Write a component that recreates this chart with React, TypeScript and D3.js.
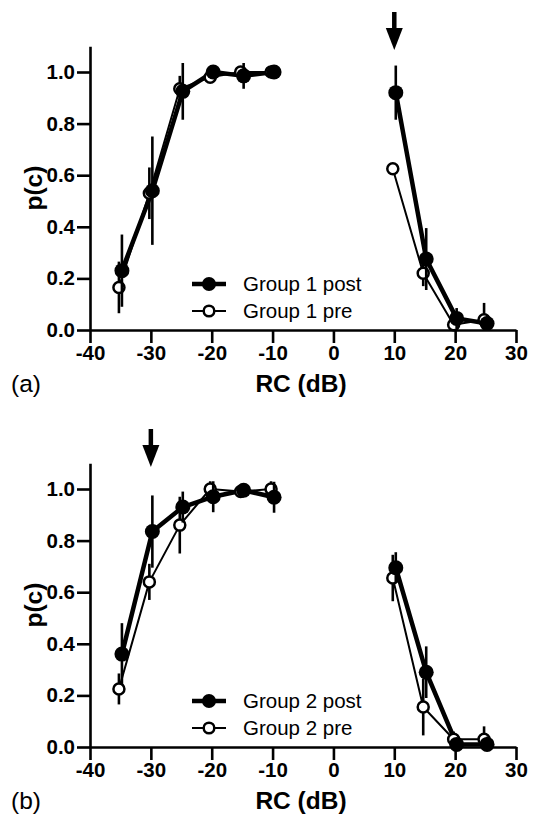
import React, { useRef, useEffect } from 'react';
import * as d3 from 'd3';

const rc = [-35, -30, -25, -20, -15, -10, 10, 15, 20, 25];

const g1Post = [0.23, 0.54, 0.925, 1.0, 0.985, 1.0, 0.92, 0.275, 0.045, 0.025];
const g1PostErr = [0.14, 0.21, 0.11, 0.02, 0.05, 0.01, 0.105, 0.12, 0.04, 0.03];
const g1Pre = [0.165, 0.53, 0.935, 0.98, 1.0, 1.0, 0.625, 0.22, 0.02, 0.04];
const g1PreErr = [0.1, 0.1, 0.05, 0.02, 0.01, 0.01, 0.02, 0.05, 0.02, 0.065];

const g2Post = [0.36, 0.835, 0.93, 0.97, 0.995, 0.968, 0.695, 0.29, 0.01, 0.01];
const g2PostErr = [0.12, 0.14, 0.06, 0.06, 0.02, 0.06, 0.06, 0.1, 0.02, 0.03];
const g2Pre = [0.225, 0.64, 0.86, 1.0, 0.99, 1.0, 0.655, 0.155, 0.03, 0.03];
const g2PreErr = [0.06, 0.07, 0.11, 0.03, 0.02, 0.03, 0.09, 0.11, 0.03, 0.05];

const xTicks = [-40, -30, -20, -10, 0, 10, 20, 30];
const yTicks = [0, 0.2, 0.4, 0.6, 0.8, 1.0];

const panels = [
  { tag: '(a)', post: g1Post, postErr: g1PostErr, pre: g1Pre, preErr: g1PreErr,
    postLabel: 'Group 1 post', preLabel: 'Group 1 pre', arrowAt: 10 },
  { tag: '(b)', post: g2Post, postErr: g2PostErr, pre: g2Pre, preErr: g2PreErr,
    postLabel: 'Group 2 post', preLabel: 'Group 2 pre', arrowAt: -30 },
];

const FONT = '"Liberation Sans", Arial, Helvetica, sans-serif';

const App = () => {
  const svgRef = useRef<SVGSVGElement>(null);

  useEffect(() => {
    const root = d3.select(svgRef.current);
    root.selectAll('*').remove();

    const x = d3.scaleLinear().domain([-40, 30]).range([90, 516]);

    panels.forEach((p, i) => {
      const off = i * 417;
      const g = root.append('g').attr('transform', `translate(0,${off})`);
      const y = d3.scaleLinear().domain([0, 1.1]).range([330, 46.2]);

      // axes
      const xAxis = g.append('g')
        .attr('transform', 'translate(0,330)')
        .call(d3.axisBottom(x).tickValues(xTicks).tickFormat((d) => String(d))
          .tickSize(13).tickSizeOuter(0).tickPadding(2));
      const yAxis = g.append('g')
        .attr('transform', 'translate(90,0)')
        .call(d3.axisLeft(y).tickValues(yTicks).tickFormat((d) => (+d).toFixed(1))
          .tickSize(13).tickSizeOuter(0).tickPadding(2));
      [xAxis, yAxis].forEach((a) => {
        a.selectAll('path, line').attr('stroke', '#000').attr('stroke-width', 2.6);
        a.selectAll('text')
          .attr('fill', '#000')
          .style('font-family', FONT)
          .style('font-size', '20.5px')
          .style('font-weight', 'bold');
      });

      g.append('text')
        .attr('x', 301).attr('y', 392)
        .attr('text-anchor', 'middle')
        .style('font-family', FONT).style('font-size', '24.5px').style('font-weight', 'bold')
        .text('RC (dB)');
      g.append('text')
        .attr('x', 11).attr('y', 392)
        .style('font-family', FONT).style('font-size', '24.5px')
        .text(p.tag);
      g.append('text')
        .attr('transform', `translate(42,${y(0.55)}) rotate(-90)`)
        .attr('text-anchor', 'middle')
        .style('font-family', FONT).style('font-size', '24.5px').style('font-weight', 'bold')
        .text('p(c)');

      const series = [
        { vals: p.pre, err: p.preErr, dx: -1.5, filled: false, lw: 2 },
        { vals: p.post, err: p.postErr, dx: 1.5, filled: true, lw: 4.5 },
      ];

      series.forEach((s) => {
        const pts = rc.map((v, k) => ({ rc: v, p: s.vals[k], e: s.err[k] }));
        const line = d3.line<any>().x((d) => x(d.rc) + s.dx).y((d) => y(d.p));
        [pts.filter((d) => d.rc < 0), pts.filter((d) => d.rc > 0)].forEach((seg) => {
          g.append('path').datum(seg)
            .attr('fill', 'none').attr('stroke', '#000')
            .attr('stroke-width', s.lw).attr('stroke-linejoin', 'round')
            .attr('d', line);
        });
      });

      series.forEach((s) => {
        const pts = rc.map((v, k) => ({ rc: v, p: s.vals[k], e: s.err[k] }));
        g.selectAll(null).data(pts).enter().append('line')
          .attr('x1', (d) => x(d.rc) + s.dx).attr('x2', (d) => x(d.rc) + s.dx)
          .attr('y1', (d) => y(Math.min(1.1, d.p + d.e)))
          .attr('y2', (d) => y(Math.max(0, d.p - d.e)))
          .attr('stroke', '#000').attr('stroke-width', 2.6);
        g.selectAll(null).data(pts).enter().append('circle')
          .attr('cx', (d) => x(d.rc) + s.dx).attr('cy', (d) => y(d.p))
          .attr('r', s.filled ? 7.5 : 5.5)
          .attr('fill', s.filled ? '#000' : '#fff')
          .attr('stroke', '#000').attr('stroke-width', s.filled ? 0 : 2.5);
      });

      // legend
      const legend = [
        { label: p.postLabel, filled: true, lw: 4.5, yy: 284 },
        { label: p.preLabel, filled: false, lw: 2, yy: 311 },
      ];
      legend.forEach((l) => {
        g.append('line').attr('x1', 192).attr('x2', 226).attr('y1', l.yy).attr('y2', l.yy)
          .attr('stroke', '#000').attr('stroke-width', l.lw);
        g.append('circle').attr('cx', 209).attr('cy', l.yy)
          .attr('r', l.filled ? 7 : 5.3)
          .attr('fill', l.filled ? '#000' : '#fff')
          .attr('stroke', '#000').attr('stroke-width', l.filled ? 0 : 2.5);
        g.append('text').attr('x', 243).attr('y', l.yy + 7)
          .style('font-family', FONT).style('font-size', '20.5px')
          .text(l.label);
      });

      // arrow
      const ax = x(p.arrowAt);
      g.append('line').attr('x1', ax).attr('x2', ax).attr('y1', 12).attr('y2', 31)
        .attr('stroke', '#000').attr('stroke-width', 4.5);
      g.append('path')
        .attr('d', `M${ax - 8.5},28 L${ax + 8.5},28 L${ax},50 Z`)
        .attr('fill', '#000');
    });
  }, []);

  return (
    <svg
      ref={svgRef}
      width={535}
      height={824}
      style={{ position: 'absolute', left: 0, top: 0, background: '#fff' }}
    />
  );
};

export default App;
